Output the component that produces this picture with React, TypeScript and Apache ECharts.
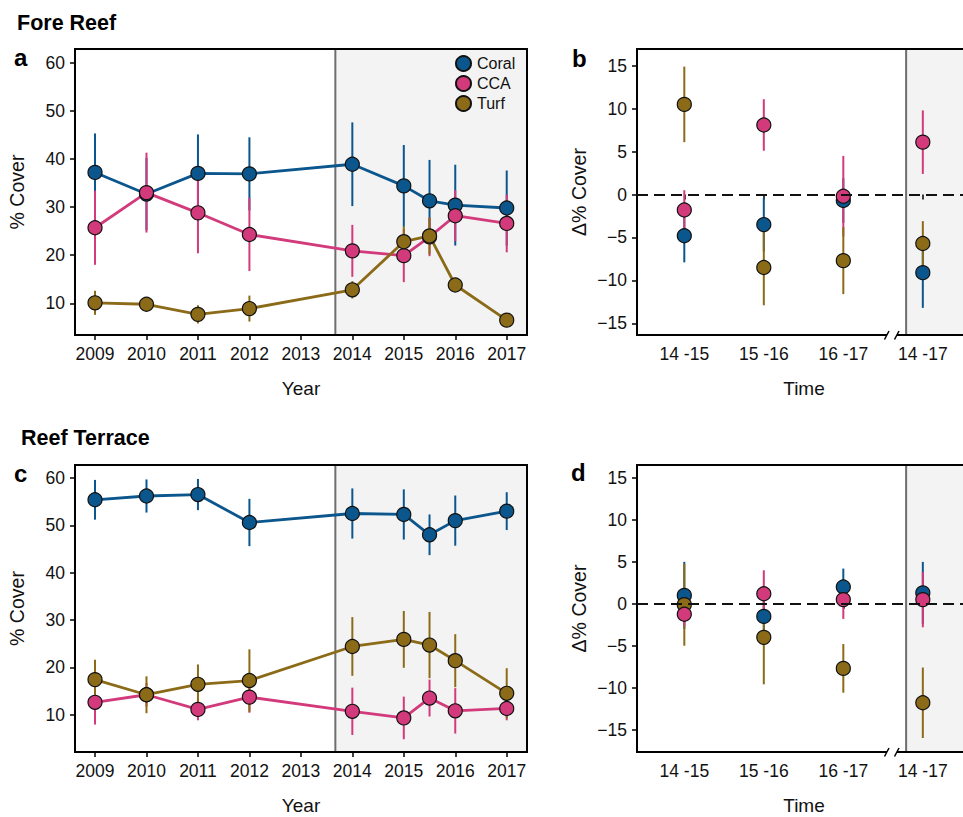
import React, { useEffect, useRef } from "react";
import * as echarts from "echarts";

// ---------- data ----------
const YEARS = [2009, 2010, 2011, 2012, 2014, 2015, 2015.5, 2016, 2017];
const YEAR_TICKS = [2009, 2010, 2011, 2012, 2013, 2014, 2015, 2016, 2017];
const COVER_TICKS = [10, 20, 30, 40, 50, 60];
const DELTA_TICKS = [-15, -10, -5, 0, 5, 10, 15];
const PERIODS = ["14 -15", "15 -16", "16 -17", "14 -17"];
const PERIOD_POS = [1, 2, 3, 4];
const GROUPS = ["Coral", "CCA", "Turf"];

// Fore reef (panel a)
const foreCoral = [37.2, 32.7, 37.0, 36.9, 38.9, 34.4, 31.3, 30.4, 29.8];
const foreCoralErr = [8.1, 7.5, 8.1, 7.6, 8.7, 8.5, 8.5, 8.4, 7.8];
const foreCCA = [25.7, 33.0, 28.8, 24.3, 20.9, 19.9, 23.8, 28.2, 26.6];
const foreCCAErr = [7.7, 8.3, 8.4, 7.6, 5.4, 5.5, 4.0, 5.3, 6.0];
const foreTurf = [10.1, 9.8, 7.7, 8.9, 12.8, 22.8, 24.0, 13.8, 6.5];
const foreTurfErr = [2.5, 1.0, 1.9, 2.7, 1.8, 3.2, 3.8, 1.0, 0.8];

// Fore reef change (panel b)
const foreDCoral = [-4.8, -3.5, -0.7, -9.1];
const foreDCoralErr = [3.1, 3.1, 2.6, 4.1];
const foreDCCA = [-1.8, 8.1, -0.2, 6.1];
const foreDCCAErr = [2.3, 3.0, 4.7, 3.7];
const foreDTurf = [10.5, -8.5, -7.7, -5.7];
const foreDTurfErr = [4.4, 4.4, 3.9, 2.6];

// Reef terrace (panel c)
const terrCoral = [55.4, 56.2, 56.5, 50.6, 52.5, 52.3, 48.0, 51.0, 53.0];
const terrCoralErr = [4.2, 3.5, 3.3, 5.0, 5.3, 5.3, 4.3, 5.3, 4.0];
const terrCCA = [12.6, 14.2, 11.1, 13.7, 10.7, 9.3, 13.5, 10.8, 11.3];
const terrCCAErr = [4.7, 2.5, 2.3, 3.3, 5.0, 4.5, 3.9, 4.8, 2.5];
const terrTurf = [17.4, 14.2, 16.4, 17.2, 24.4, 25.9, 24.7, 21.4, 14.5];
const terrTurfErr = [4.2, 3.9, 4.2, 6.6, 6.2, 6.0, 7.0, 5.6, 5.3];

// Reef terrace change (panel d)
const terrDCoral = [1.0, -1.5, 2.0, 1.3];
const terrDCoralErr = [4.0, 2.0, 2.2, 3.7];
const terrDCCA = [-1.25, 1.2, 0.5, 0.5];
const terrDCCAErr = [1.4, 2.8, 2.3, 3.3];
const terrDTurf = [-0.1, -4.0, -7.7, -11.8];
const terrDTurfErr = [4.9, 5.6, 2.9, 4.2];

// ---------- styles ----------
const COLORS: Record<string, string> = { Coral: "#0B568C", CCA: "#D23A7C", Turf: "#8B6B17" };
const FONT = "'Liberation Sans', Arial, Helvetica, sans-serif";
const SHADE_START_YEAR = 2013.67;
const SHADE_START_PERIOD = 3.79;

const GRIDS = [
  { left: 75, top: 49, width: 452, height: 286 },
  { left: 637, top: 49, width: 334, height: 286 },
  { left: 75, top: 465, width: 452, height: 287 },
  { left: 637, top: 465, width: 334, height: 287 },
];

function makeXAxis(gridIndex: number, isYear: boolean, bottomMargin: number) {
  return {
    type: "value",
    gridIndex,
    min: isYear ? 2008.611 : 0.405,
    max: isYear ? 2017.394 : 4.606,
    name: isYear ? "Year" : "Time",
    nameLocation: "middle",
    nameGap: bottomMargin,
    nameTextStyle: { fontFamily: FONT, fontSize: 19, color: "#111" },
    axisLine: { show: false },
    splitLine: { show: false },
    axisTick: {
      show: true,
      length: 5,
      customValues: isYear ? YEAR_TICKS : PERIOD_POS,
      lineStyle: { color: "#000", width: 1.5 },
    },
    axisLabel: {
      show: true,
      margin: 10,
      customValues: isYear ? YEAR_TICKS : PERIOD_POS,
      fontFamily: FONT,
      fontSize: 17.5,
      color: "#111",
      formatter: (v: number) => (isYear ? String(v) : PERIODS[PERIOD_POS.indexOf(v)] ?? ""),
    },
  };
}

function makeYAxis(gridIndex: number, isDelta: boolean, min: number, max: number) {
  const ticks = isDelta ? DELTA_TICKS : COVER_TICKS;
  return {
    type: "value",
    gridIndex,
    min,
    max,
    name: isDelta ? "Δ% Cover" : "% Cover",
    nameLocation: "middle",
    nameGap: 48,
    nameTextStyle: { fontFamily: FONT, fontSize: 19.5, color: "#111" },
    axisLine: { show: false },
    splitLine: { show: false },
    axisTick: { show: true, length: 5, customValues: ticks, lineStyle: { color: "#000", width: 1.5 } },
    axisLabel: {
      show: true,
      margin: 10,
      customValues: ticks,
      fontFamily: FONT,
      fontSize: 17.5,
      color: "#111",
      formatter: (v: number) => (v < 0 ? "\u2212" + Math.abs(v) : String(v)),
    },
  };
}

function shadeSeries(idx: number, start: number) {
  return {
    type: "custom",
    name: "shade" + idx,
    xAxisIndex: idx,
    yAxisIndex: idx,
    z: -1,
    silent: true,
    clip: false,
    data: [[start, 0]],
    encode: { x: 0, y: 1 },
    renderItem: (params: any, api: any) => {
      const cs = params.coordSys;
      const x0 = api.coord([api.value(0), 0])[0];
      return {
        type: "group",
        children: [
          {
            type: "rect",
            shape: { x: x0, y: cs.y, width: cs.x + cs.width - x0, height: cs.height },
            style: { fill: "#F3F3F3" },
          },
          {
            type: "line",
            shape: { x1: x0, y1: cs.y, x2: x0, y2: cs.y + cs.height },
            style: { stroke: "#6E6E6E", lineWidth: 2 },
          },
        ],
      };
    },
  };
}

function zeroLineSeries(idx: number) {
  return {
    type: "line",
    name: "zero" + idx,
    xAxisIndex: idx,
    yAxisIndex: idx,
    data: [],
    z: 1,
    markLine: {
      silent: true,
      symbol: ["none", "none"],
      label: { show: false },
      lineStyle: { color: "#111", type: [11, 6], width: 1.8 },
      data: [{ yAxis: 0 }],
    },
  };
}

function groupSeries(idx: number, xs: number[], vals: number[], errs: number[], group: string, withLine: boolean) {
  const color = COLORS[group];
  const out: any[] = [];
  if (withLine) {
    out.push({
      type: "line",
      name: group + "-line" + idx,
      xAxisIndex: idx,
      yAxisIndex: idx,
      data: xs.map((x, i) => [x, vals[i]]),
      showSymbol: false,
      symbol: "none",
      lineStyle: { color, width: 2.8 },
      z: 2,
    });
  }
  out.push({
    type: "custom",
    name: group + "-err" + idx,
    xAxisIndex: idx,
    yAxisIndex: idx,
    z: 3,
    data: xs.map((x, i) => [x, vals[i], errs[i]]),
    encode: { x: 0, y: 1 },
    renderItem: (params: any, api: any) => {
      const x = api.value(0);
      const y = api.value(1);
      const e = api.value(2);
      const p1 = api.coord([x, y - e]);
      const p2 = api.coord([x, y + e]);
      return {
        type: "line",
        shape: { x1: p1[0], y1: p1[1], x2: p2[0], y2: p2[1] },
        style: { stroke: color, lineWidth: 2 },
      };
    },
  });
  out.push({
    type: "scatter",
    name: group,
    xAxisIndex: idx,
    yAxisIndex: idx,
    z: 4,
    symbol: "circle",
    symbolSize: 14,
    data: xs.map((x, i) => [x, vals[i]]),
    itemStyle: { color, borderColor: "#111", borderWidth: 1.2, opacity: 1 },
  });
  return out;
}

function panelSeries(
  idx: number,
  xs: number[],
  sets: Record<string, [number[], number[]]>,
  withLine: boolean,
  order: string[]
) {
  const lines: any[] = [];
  const errs: any[] = [];
  const pts: any[] = [];
  order.forEach((g) => {
    const s = groupSeries(idx, xs, sets[g][0], sets[g][1], g, withLine);
    s.forEach((item) => {
      if (item.type === "line") lines.push(item);
      else if (item.type === "custom") errs.push(item);
      else pts.push(item);
    });
  });
  return [...lines, ...errs, ...pts];
}

function breakMarks(bottom: number) {
  return [
    {
      type: "rect",
      shape: { x: 887, y: bottom - 2.5, width: 10, height: 5 },
      style: { fill: "#fff" },
      z: 100,
    },
    {
      type: "line",
      shape: { x1: 884.5, y1: bottom + 4.5, x2: 889, y2: bottom - 4 },
      style: { stroke: "#000", lineWidth: 1.5 },
      z: 101,
    },
    {
      type: "line",
      shape: { x1: 894.5, y1: bottom + 4.5, x2: 899, y2: bottom - 4 },
      style: { stroke: "#000", lineWidth: 1.5 },
      z: 101,
    },
  ];
}

function titleText(text: string, x: number, y: number, size: number) {
  return {
    type: "text",
    x,
    y,
    z: 100,
    style: {
      text,
      fontFamily: FONT,
      fontWeight: "bold",
      fontSize: size,
      fill: "#000",
      verticalAlign: "middle",
    },
  };
}

export default function App() {
  const ref = useRef<HTMLDivElement>(null);

  useEffect(() => {
    if (!ref.current) return;
    const chart = echarts.init(ref.current, undefined, { renderer: "svg" });

    const series: any[] = [
      shadeSeries(0, SHADE_START_YEAR),
      shadeSeries(1, SHADE_START_PERIOD),
      shadeSeries(2, SHADE_START_YEAR),
      shadeSeries(3, SHADE_START_PERIOD),
      zeroLineSeries(1),
      zeroLineSeries(3),
      ...panelSeries(
        0,
        YEARS,
        { Coral: [foreCoral, foreCoralErr], CCA: [foreCCA, foreCCAErr], Turf: [foreTurf, foreTurfErr] },
        true,
        ["Coral", "CCA", "Turf"]
      ),
      ...panelSeries(
        1,
        PERIOD_POS,
        { Coral: [foreDCoral, foreDCoralErr], CCA: [foreDCCA, foreDCCAErr], Turf: [foreDTurf, foreDTurfErr] },
        false,
        ["Coral", "CCA", "Turf"]
      ),
      ...panelSeries(
        2,
        YEARS,
        { Coral: [terrCoral, terrCoralErr], CCA: [terrCCA, terrCCAErr], Turf: [terrTurf, terrTurfErr] },
        true,
        ["Coral", "CCA", "Turf"]
      ),
      ...panelSeries(
        3,
        PERIOD_POS,
        { Coral: [terrDCoral, terrDCoralErr], CCA: [terrDCCA, terrDCCAErr], Turf: [terrDTurf, terrDTurfErr] },
        false,
        ["Coral", "Turf", "CCA"]
      ),
    ];

    const option: any = {
      animation: false,
      backgroundColor: "#fff",
      grid: GRIDS.map((g) => ({
        ...g,
        show: true,
        borderColor: "#000",
        borderWidth: 2,
        backgroundColor: "transparent",
        containLabel: false,
        outerBoundsMode: "none",
      })),
      xAxis: [makeXAxis(0, true, 44), makeXAxis(1, false, 44), makeXAxis(2, true, 44), makeXAxis(3, false, 44)],
      yAxis: [
        makeYAxis(0, false, 3.41, 62.85),
        makeYAxis(1, true, -16.36, 16.95),
        makeYAxis(2, false, 2.1, 62.75),
        makeYAxis(3, true, -17.67, 16.55),
      ],
      legend: {
        show: true,
        orient: "vertical",
        left: 455,
        top: 55,
        padding: 0,
        itemWidth: 17,
        itemHeight: 15,
        itemGap: 3,
        selectedMode: false,
        data: GROUPS.map((g) => ({ name: g, icon: "circle" })),
        textStyle: { fontFamily: FONT, fontSize: 16, color: "#111", lineHeight: 16 },
      },
      graphic: [
        titleText("Fore Reef", 17, 23, 21.5),
        titleText("a", 14, 57, 24),
        titleText("b", 572, 58, 24),
        titleText("Reef Terrace", 21, 438, 21.5),
        titleText("c", 14, 473, 24),
        titleText("d", 571, 472, 24),
        ...breakMarks(335),
        ...breakMarks(752),
      ],
      series,
    };

    chart.setOption(option);
    return () => chart.dispose();
  }, []);

  return (
    <div
      ref={ref}
      style={{ position: "fixed", left: 0, top: 0, width: 963, height: 817, background: "#fff" }}
    />
  );
}
